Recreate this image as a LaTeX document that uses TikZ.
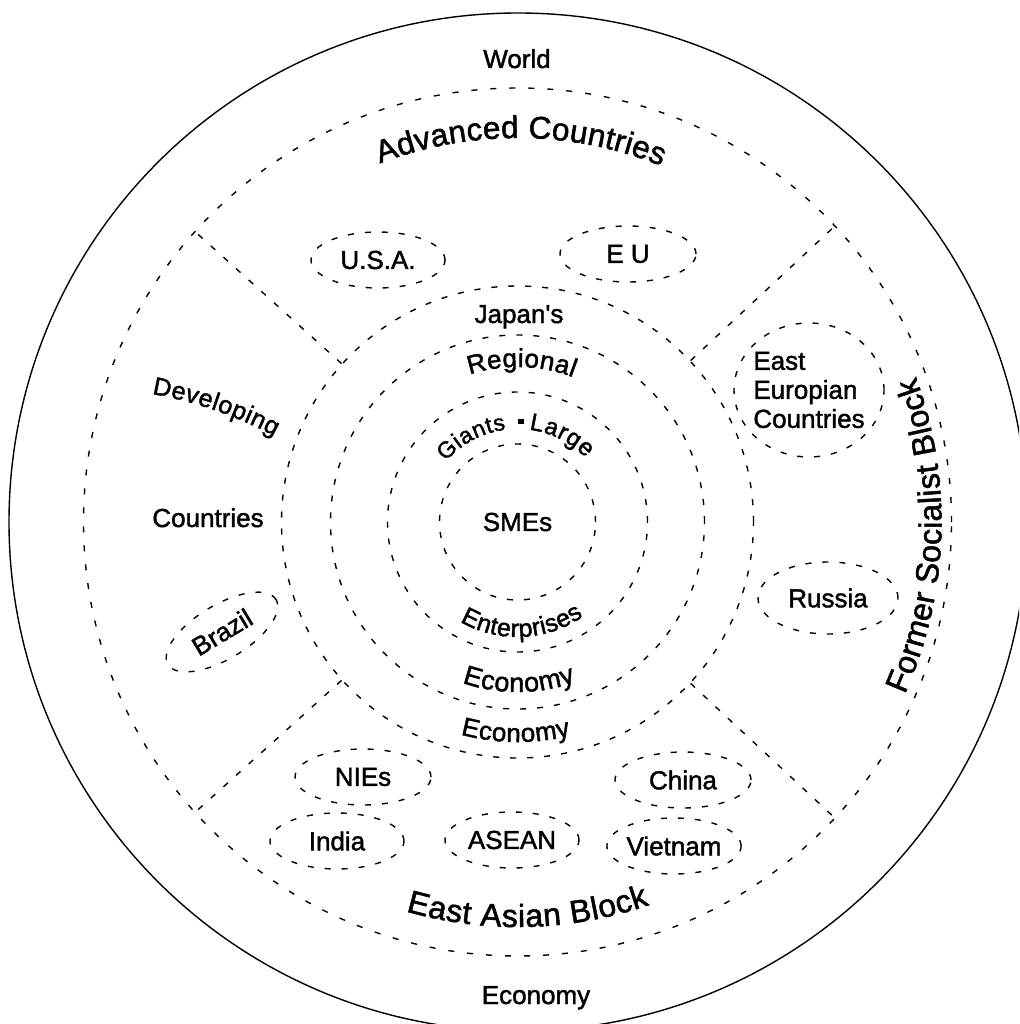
\documentclass[tikz,border=0pt]{standalone}
\usepackage{fontspec}
\setmainfont{Liberation Sans}[FakeBold=1.6]
\usetikzlibrary{decorations.text,shapes.geometric}
% font sizes (1pt = 1 unit of the drawing)
\newcommand\txtN{\fontsize{26}{29}\selectfont}
\newcommand\txtR{\fontsize{26}{26}\selectfont}
\newcommand\txtE{\fontsize{27}{27}\selectfont}
\newcommand\txtP{\fontsize{25}{25}\selectfont}
\newcommand\txtGa{\fontsize{23}{23}\selectfont}
\newcommand\txtGb{\fontsize{24}{24}\selectfont}
\newcommand\txtD{\fontsize{25}{25}\selectfont}
\newcommand\txtA{\fontsize{31.5}{31.5}\selectfont}
\newcommand\txtB{\fontsize{32}{32}\selectfont}
\begin{document}
\begin{tikzpicture}[x=1pt,y=1pt,
  dsh/.style={line width=1.4pt, dash pattern=on 6pt off 11pt},
  ring/.style={circle, draw, dsh, inner sep=0pt},
  blob/.style={ellipse, draw, dsh, inner sep=0pt, font=\txtN},
  lbl/.style={font=\txtN, inner sep=0pt},
  curved/.style={decorate, decoration={text along path, text align=fit to path, text={#1}}},
]
\useasboundingbox (0,0) rectangle (1019,-1024);
\clip (0,0) rectangle (1019,-1024);

% the world economy
\node[circle, draw, line width=1.4pt, minimum size=1018pt, inner sep=0pt] (world) at (518,-522) {};
\coordinate (O) at (517.5,-522);

% concentric rings
\node[ring, minimum size=868pt, dash pattern=on 6pt off 13pt] (bloc) at (O) {};
\node[ring, minimum size=472pt] (japan) at (O) {};
\node[ring, minimum size=374pt] (regional) at (O) {};
\node[ring, minimum size=260pt] (giants) at (O) {};
\node[ring, minimum size=156pt, font=\txtN] (smes) at (O) {SMEs};

% sector boundaries between the blocks
\foreach \a in {138,43,222,317}
  \draw[dsh] (japan.\a) -- (bloc.\a);

% countries and regions
\node[blob, minimum width=134pt, minimum height=56pt] (usa) at (378,-260) {U.S.A.};
\node[blob, minimum width=136pt, minimum height=56pt] (eu) at (628,-254) {E U};
\node[blob, minimum width=150pt, minimum height=134pt, align=left, inner sep=-6pt] (eeu) at (809,-390) {East\\Europian\\Countries};
\node[blob, minimum width=140pt, minimum height=72pt] (russia) at (828,-598) {Russia};
\node[blob, minimum width=126pt, minimum height=54pt, rotate=31] (brazil) at (222,-632) {Brazil};
\node[blob, minimum width=136pt, minimum height=56pt] (nies) at (363,-777) {NIEs};
\node[blob, minimum width=136pt, minimum height=56pt] (china) at (683,-780) {China};
\node[blob, minimum width=134pt, minimum height=56pt] (india) at (337,-841) {India};
\node[blob, minimum width=134pt, minimum height=56pt] (asean) at (512,-840) {ASEAN};
\node[blob, minimum width=134pt, minimum height=56pt] (vietnam) at (674,-846) {Vietnam};

% straight labels
\node[lbl, anchor=base] (worldlbl) at (517,-68) {World};
\node[lbl, anchor=base] (econlbl) at (536,-1004) {Economy};
\node[lbl, anchor=base] (japanlbl) at (519,-323) {Japan\textquotesingle s};
\node[lbl, anchor=base] (devlbl) at (208,-527) {Countries};
\node[fill, inner sep=0pt, minimum size=5.5pt] (dot) at (521,-421.5) {};

% labels set along arcs
\path[curved={|\txtA|Advanced Countries}, shift={(517.5,-522)}]
  (111:384) arc[start angle=111, end angle=68, radius=384];
\path[curved={|\txtB|Former Socialist Block}, shift={(517.5,-522)}]
  (-24:424) arc[start angle=-24, end angle=20, radius=424];
\path[curved={|\txtB|East Asian Block}, shift={(517.5,-522)}]
  (254:405) arc[start angle=254, end angle=289, radius=405];
\path[curved={|\txtR|Regional}, shift={(517.5,-522)}]
  (108:155) arc[start angle=108, end angle=69, radius=155];
\path[curved={|\txtE|Economy}, shift={(517.5,-522)}]
  (251:170) arc[start angle=251, end angle=290, radius=170];
\path[curved={|\txtR|Economy}, shift={(517.5,-522)}]
  (255:220) arc[start angle=255, end angle=284, radius=220];
\path[curved={|\txtGa|Giants}, shift={(517.5,-524)}]
  (139:95) arc[start angle=139, end angle=97, radius=95];
\path[curved={|\txtGb|Large}, shift={(517.5,-524)}]
  (83:95) arc[start angle=83, end angle=44, radius=95];
\path[curved={|\txtP|Enterprises}, shift={(517.5,-522)}]
  (240:115) arc[start angle=240, end angle=305, radius=115];
\path[curved={|\txtD|Developing}]
  (152,-394) arc[start angle=80, end angle=62, radius=414];
\end{tikzpicture}
\end{document}
